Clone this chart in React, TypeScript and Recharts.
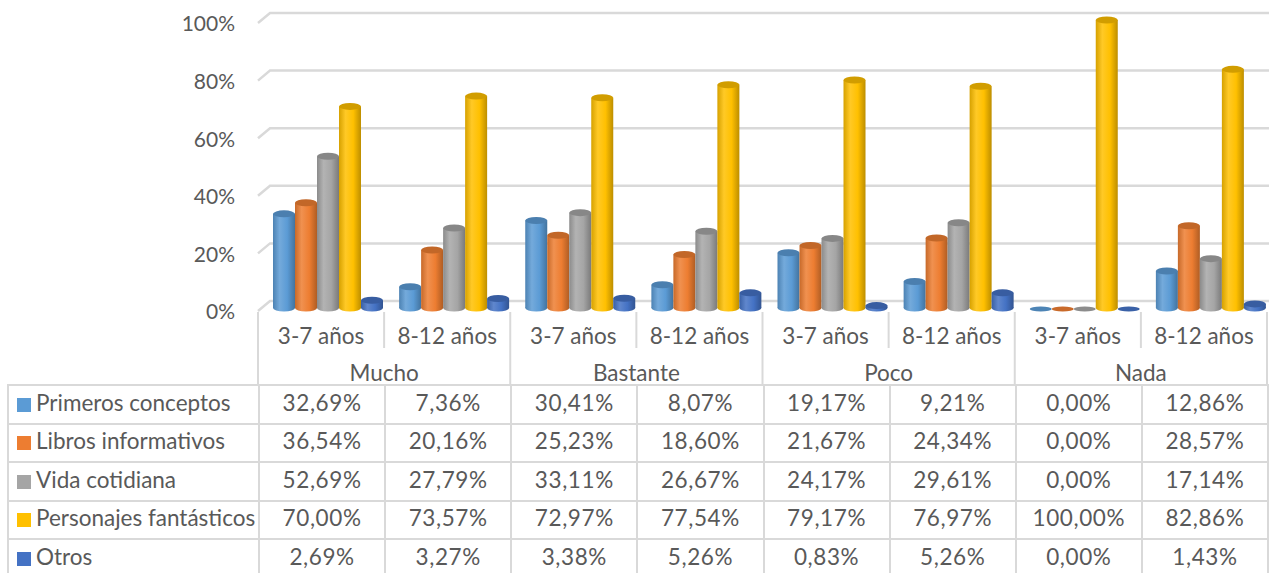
import { BarChart, Bar, XAxis, YAxis, CartesianGrid } from 'recharts';

const ages = ['3-7 años', '8-12 años', '3-7 años', '8-12 años', '3-7 años', '8-12 años', '3-7 años', '8-12 años'];
const groups = ['Mucho', 'Bastante', 'Poco', 'Nada'];
const yTicks = [0, 20, 40, 60, 80, 100];

const primeros = [32.69, 7.36, 30.41, 8.07, 19.17, 9.21, 0, 12.86];
const libros = [36.54, 20.16, 25.23, 18.6, 21.67, 24.34, 0, 28.57];
const vida = [52.69, 27.79, 33.11, 26.67, 24.17, 29.61, 0, 17.14];
const personajes = [70.0, 73.57, 72.97, 77.54, 79.17, 76.97, 100.0, 82.86];
const otros = [2.69, 3.27, 3.38, 5.26, 0.83, 5.26, 0.0, 1.43];

const series = [
  { key: 'primeros', name: 'Primeros conceptos', color: '#5B9BD5', values: primeros },
  { key: 'libros', name: 'Libros informativos', color: '#ED7D31', values: libros },
  { key: 'vida', name: 'Vida cotidiana', color: '#A5A5A5', values: vida },
  { key: 'personajes', name: 'Personajes fantásticos', color: '#FFC000', values: personajes },
  { key: 'otros', name: 'Otros', color: '#4472C4', values: otros },
];

const data = ages.map((age, i) => {
  const row: Record<string, string | number> = { age, idx: i };
  series.forEach(s => { row[s.key] = s.values[i]; });
  return row;
});

const FONT = 'Lato, "Open Sans", sans-serif';
const TEXT = '#595959';
const LINE = '#D9D9D9';
const W = 1280;
const H = 573;
const PLOT_LEFT = 258;
const PLOT_RIGHT = 1267;
const SLOT = (PLOT_RIGHT - PLOT_LEFT) / ages.length;
const DEPTH = 7;
const FS = 22.5;

const shade = (hex: string, f: number) => {
  const n = parseInt(hex.slice(1), 16);
  const ch = [(n >> 16) & 255, (n >> 8) & 255, n & 255].map(c =>
    Math.max(0, Math.min(255, Math.round(f > 1 ? c + (255 - c) * (f - 1) : c * f)))
  );
  return `rgb(${ch.join(',')})`;
};

const fmt = (v: number) => v.toFixed(2).replace('.', ',') + '%';

const Cylinder = (props: any) => {
  const { x, y, width, height, sKey, color } = props;
  const cx = x + width / 2 + DEPTH;
  const rx = width / 2;
  const ry = 3.5;
  const bottom = y + height;
  if (!height || height < 1) {
    return <ellipse cx={cx} cy={bottom + 1} rx={rx} ry={2.5} fill={shade(color, 0.85)} />;
  }
  return (
    <g>
      <rect x={x + DEPTH} y={y} width={width} height={height} fill={`url(#grad-${sKey})`} />
      <ellipse cx={cx} cy={bottom} rx={rx} ry={ry} fill={`url(#grad-${sKey})`} />
      <ellipse cx={cx} cy={y} rx={rx} ry={ry} fill={shade(color, 0.82)} />
    </g>
  );
};

const GridLine = (props: any) => {
  const { x1, x2, y1 } = props;
  return (
    <path
      key={props.key}
      d={`M${x1} ${y1 + 3} L${x1 + 12} ${y1 - 7} L${x2 + 2} ${y1 - 7}`}
      fill="none"
      stroke={LINE}
      strokeWidth={2.5}
    />
  );
};

const AgeTick = (props: any) => {
  const { x, y, payload, index } = props;
  const left = x - SLOT / 2;
  const right = x + SLOT / 2;
  const groupEnd = index % 2 === 1;
  return (
    <g>
      <text x={x} y={y + 27} textAnchor="middle" dominantBaseline="central" fill={TEXT} fontSize={FS} fontFamily={FONT}>
        {payload.value}
      </text>
      {index === 0 && <line x1={left} x2={left} y1={y + 4} y2={y + 78} stroke={LINE} strokeWidth={2} />}
      <line x1={right} x2={right} y1={y + 4} y2={groupEnd ? y + 78 : y + 40} stroke={LINE} strokeWidth={2} />
      {groupEnd && (
        <text x={left} y={y + 64} textAnchor="middle" dominantBaseline="central" fill={TEXT} fontSize={FS} fontFamily={FONT}>
          {groups[(index - 1) / 2]}
        </text>
      )}
    </g>
  );
};

const cell: React.CSSProperties = {
  border: `2px solid ${LINE}`,
  height: 38.5,
  padding: 0,
  paddingBottom: 3,
  textAlign: 'center',
  color: TEXT,
  fontSize: FS,
  fontFamily: FONT,
  whiteSpace: 'nowrap',
  boxSizing: 'border-box',
  lineHeight: 1,
};

export default function App() {
  return (
    <div style={{ position: 'absolute', left: 0, top: 0, width: W, height: H, overflow: 'hidden', background: '#fff' }}>
      <BarChart
        width={W}
        height={H}
        data={data}
        margin={{ top: 20, right: W - PLOT_RIGHT, bottom: 0, left: PLOT_LEFT - 60 }}
        barCategoryGap={8}
        barGap={0}
      >
        <defs>
          {series.map(s => (
            <linearGradient key={s.key} id={`grad-${s.key}`} x1="0" y1="0" x2="1" y2="0">
              <stop offset="0%" stopColor={shade(s.color, 0.84)} />
              <stop offset="30%" stopColor={shade(s.color, 1.15)} />
              <stop offset="65%" stopColor={s.color} />
              <stop offset="100%" stopColor={shade(s.color, 0.74)} />
            </linearGradient>
          ))}
        </defs>
        <CartesianGrid vertical={false} horizontal={GridLine} />
        <YAxis
          width={60}
          domain={[0, 100]}
          ticks={yTicks}
          tickFormatter={(v: number) => `${v}%`}
          axisLine={false}
          tickLine={false}
          tickMargin={17}
          tick={{ fill: TEXT, fontSize: 21, fontFamily: FONT, dy: 4 }}
        />
        <XAxis
          dataKey="age"
          height={H - 308}
          axisLine={false}
          tickLine={false}
          tickSize={0}
          tickMargin={0}
          interval={0}
          tick={<AgeTick />}
        />
        {series.map(s => (
          <Bar
            key={s.key}
            dataKey={s.key}
            name={s.name}
            fill={s.color}
            isAnimationActive={false}
            shape={(p: any) => <Cylinder {...p} sKey={s.key} color={s.color} />}
          />
        ))}
      </BarChart>
      <table
        style={{
          position: 'absolute',
          left: 7,
          top: 384,
          borderCollapse: 'collapse',
          tableLayout: 'fixed',
          width: PLOT_RIGHT - 7 + 1,
        }}
      >
        <colgroup>
          <col style={{ width: PLOT_LEFT - 7 }} />
          {ages.map((_, i) => (
            <col key={i} style={{ width: SLOT }} />
          ))}
        </colgroup>
        <tbody>
          {series.map(s => (
            <tr key={s.key}>
              <td style={{ ...cell, textAlign: 'left', paddingLeft: 8 }}>
                <span style={{ display: 'inline-block', width: 14, height: 14, background: s.color, marginRight: 5, verticalAlign: -1 }} />
                {s.name}
              </td>
              {s.values.map((v, i) => (
                <td key={i} style={{ ...cell, letterSpacing: 0.6 }}>{fmt(v)}</td>
              ))}
            </tr>
          ))}
        </tbody>
      </table>
    </div>
  );
}
